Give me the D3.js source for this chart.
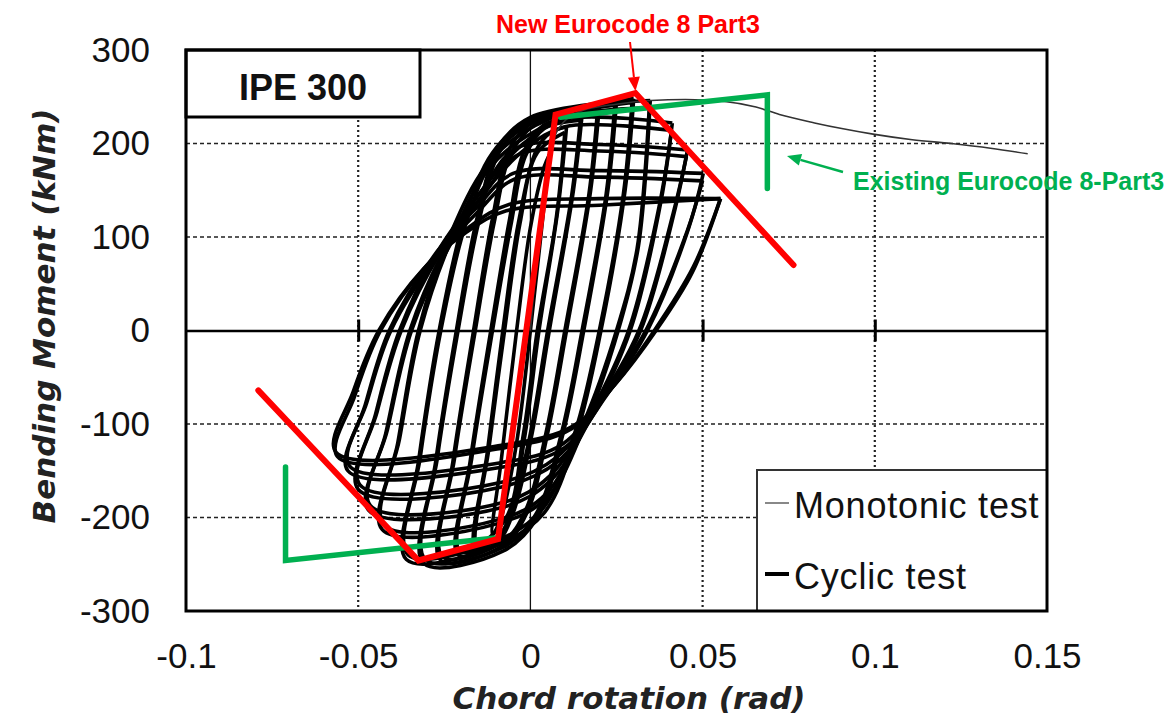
<!DOCTYPE html>
<html>
<head>
<meta charset="utf-8">
<script src="https://cdn.jsdelivr.net/npm/d3@7"></script>
<style>
  html, body { margin: 0; padding: 0; background: #fff; }
  svg { display: block; }
</style>
</head>
<body>
<svg id="chart" width="1173" height="720"></svg>
<script>
// axis ticks
const xTicks = [-0.1, -0.05, 0, 0.05, 0.1, 0.15];
const xTickLabels = ['-0.1', '-0.05', '0', '0.05', '0.1', '0.15'];
const yTicks = [-300, -200, -100, 0, 100, 200, 300];
const yTickLabels = ['-300', '-200', '-100', '0', '100', '200', '300'];
const xGrid = [-0.05, 0.05, 0.1];
const yGrid = [-200, -100, 100, 200];

// Eurocode models [rotation, moment]
const newEC8 = [[-0.079, -64], [-0.0325, -246], [-0.0094, -223], [0.0073, 231], [0.0305, 254], [0.0764, 70]];
const existingEC8Neg = [[-0.0711, -146], [-0.0711, -246], [-0.0102, -222]];
const existingEC8Pos = [[0.0087, 228], [0.0688, 252], [0.0688, 152]];

// monotonic test
const monotonic = [[0, 0], [0.004, 150], [0.008, 215], [0.015, 235], [0.025, 242], [0.035, 246], [0.045, 247],
  [0.0564, 245], [0.0655, 239], [0.0723, 231], [0.0825, 222], [0.0904, 216], [0.0995, 210],
  [0.1109, 204], [0.1222, 200], [0.1336, 195], [0.1444, 189]];

// cyclic test, one array per cycle (positive tip -> negative tip -> back)
const cycle01 = [[0.0055, 188], [0.003, 100], [0.0, 0], [-0.004, -120], [-0.0085, -200], [-0.011, -218], [-0.0085, -140], [-0.004, 0], [0.0, 110], [0.004, 175], [0.0055, 188]];
const cycle02 = [[0.0105, 218], [0.008, 130], [0.0025, 0], [-0.0015, -110], [-0.0065, -205], [-0.011, -225], [-0.016, -232], [-0.0125, -130], [-0.008, 0], [-0.0035, 115], [0.002, 195], [0.006, 212], [0.0105, 218]];
const cycle02b = [[0.010, 212], [0.0075, 120], [0.002, 0], [-0.002, -110], [-0.007, -200], [-0.0155, -228], [-0.012, -125], [-0.0075, 0], [-0.003, 115], [0.002, 190], [0.010, 212]];
const cycle03 = [[0.015, 230], [0.0125, 150], [0.0055, 0], [0.0005, -110], [-0.005, -195], [-0.010, -228], [-0.021, -240], [-0.0175, -140], [-0.0115, 0], [-0.006, 120], [-0.002, 190], [0.004, 220], [0.015, 230]];
const cycle03b = [[0.0145, 225], [0.012, 145], [0.005, 0], [0.0, -110], [-0.0055, -192], [-0.010, -224], [-0.0205, -236], [-0.017, -136], [-0.011, 0], [-0.0055, 116], [-0.0015, 186], [0.004, 216], [0.0145, 225]];
const cycle04 = [[0.020, 240], [0.0175, 150], [0.0105, 0], [0.005, -110], [-0.001, -195], [-0.008, -230], [-0.026, -246], [-0.0225, -140], [-0.0165, 0], [-0.011, 120], [-0.006, 195], [0.002, 226], [0.020, 240]];
const cycle04b = [[0.0195, 236], [0.017, 146], [0.010, 0], [0.0045, -110], [-0.0015, -193], [-0.008, -226], [-0.0255, -242], [-0.022, -136], [-0.016, 0], [-0.0105, 116], [-0.0055, 190], [0.002, 222], [0.0195, 236]];
const cycle05 = [[0.025, 245], [0.0225, 150], [0.0155, 0], [0.0095, -110], [0.002, -200], [-0.008, -236], [-0.031, -249], [-0.0275, -140], [-0.0215, 0], [-0.0155, 120], [-0.009, 198], [0.0, 228], [0.025, 245]];
const cycle05b = [[0.0245, 241], [0.022, 146], [0.015, 0], [0.009, -110], [0.0015, -197], [-0.008, -232], [-0.0305, -245], [-0.027, -136], [-0.021, 0], [-0.015, 116], [-0.0085, 194], [0.0, 224], [0.0245, 241]];
const cycle06 = [[0.030, 248], [0.0275, 150], [0.0205, 0], [0.0135, -110], [0.004, -195], [-0.0107, -231], [-0.036, -245], [-0.0325, -140], [-0.0265, 0], [-0.0195, 115], [-0.011, 190], [0.0, 225], [0.030, 248]];
const cycle06b = [[0.0295, 244], [0.027, 146], [0.020, 0], [0.013, -108], [0.0035, -191], [-0.0105, -226], [-0.0355, -240], [-0.032, -136], [-0.026, 0], [-0.019, 111], [-0.0105, 186], [0.0, 221], [0.0295, 244]];
const cycle07 = [[0.0348, 246], [0.0314, 91], [0.0255, 0], [0.016, -100], [0.005, -178], [-0.009, -206], [-0.043, -213], [-0.0385, -120], [-0.0325, 0], [-0.023, 105], [-0.013, 175], [-0.002, 212], [0.015, 238], [0.0348, 246]];
const cycle07b = [[0.0345, 238], [0.031, 88], [0.025, 0], [0.0155, -98], [0.0045, -175], [-0.009, -202], [-0.0425, -208], [-0.038, -116], [-0.032, 0], [-0.0225, 101], [-0.0125, 171], [-0.0015, 207], [0.015, 232], [0.0345, 238]];
const cycle08 = [[0.0412, 222], [0.038, 140], [0.029, 0], [0.018, -90], [0.006, -160], [-0.008, -189], [-0.047, -192], [-0.042, -110], [-0.035, 0], [-0.023, 100], [-0.012, 160], [-0.002, 200], [0.01, 226], [0.0412, 222]];
const cycle08b = [[0.041, 214], [0.0375, 135], [0.0285, 0], [0.0175, -88], [0.0055, -156], [-0.008, -184], [-0.0465, -187], [-0.0415, -106], [-0.0345, 0], [-0.0225, 97], [-0.0115, 156], [-0.0015, 194], [0.01, 218], [0.041, 214]];
const cycle09 = [[0.0456, 193], [0.042, 130], [0.032, 0], [0.02, -80], [0.008, -140], [-0.008, -167], [-0.050, -170], [-0.045, -90], [-0.038, 0], [-0.026, 90], [-0.014, 150], [-0.004, 195], [0.02, 199], [0.0456, 193]];
const cycle09b = [[0.0453, 186], [0.0415, 126], [0.0315, 0], [0.0195, -78], [0.0075, -136], [-0.008, -162], [-0.0495, -165], [-0.0445, -87], [-0.0375, 0], [-0.0255, 87], [-0.0135, 146], [-0.0035, 188], [0.02, 192], [0.0453, 186]];
const cycle10 = [[0.0502, 168], [0.046, 110], [0.034, 0], [0.022, -70], [0.01, -125], [-0.008, -146], [-0.053, -150], [-0.048, -80], [-0.041, 0], [-0.028, 80], [-0.016, 130], [-0.005, 168], [0.02, 171], [0.0502, 168]];
const cycle10b = [[0.05, 160], [0.0455, 106], [0.0335, 0], [0.0215, -68], [0.0095, -121], [-0.008, -141], [-0.0525, -145], [-0.0475, -77], [-0.0405, 0], [-0.0275, 77], [-0.0155, 126], [-0.0045, 162], [0.02, 164], [0.05, 160]];
const cycle11 = [[0.0552, 141], [0.0473, 68], [0.036, 0], [0.024, -60], [0.012, -105], [-0.007, -125], [-0.056, -135], [-0.051, -70], [-0.0435, 0], [-0.03, 70], [-0.018, 110], [-0.006, 135], [0.02, 141], [0.0552, 141]];
const cycle11b = [[0.0552, 141], [0.047, 62], [0.0365, 0], [0.0245, -58], [0.0125, -102], [-0.007, -122], [-0.0565, -130], [-0.0515, -66], [-0.044, 0], [-0.031, 66], [-0.019, 104], [-0.007, 128], [0.02, 134], [0.0552, 141]];
const cyclic = [cycle01, cycle02, cycle02b, cycle03, cycle03b, cycle04, cycle04b, cycle05, cycle05b, cycle06, cycle06b,
  cycle07, cycle07b, cycle08, cycle08b, cycle09, cycle09b, cycle10, cycle10b, cycle11, cycle11b];

const legendItems = ['Monotonic test', 'Cyclic test'];

const svg = d3.select('#chart');
const plot = { left: 186, right: 1047, top: 50, bottom: 611 };

const x = d3.scaleLinear().domain([-0.1, 0.15]).range([plot.left, plot.right]);
const y = d3.scaleLinear().domain([-300, 300]).range([plot.bottom, plot.top]);

const tickFont = '"Liberation Sans", Arial, sans-serif';

// grid
svg.append('g').selectAll('line').data(yGrid).join('line')
  .attr('x1', plot.left).attr('x2', plot.right)
  .attr('y1', d => y(d)).attr('y2', d => y(d))
  .attr('stroke', '#222').attr('stroke-width', 1.6).attr('stroke-dasharray', '4,3');

svg.append('g').selectAll('line').data(xGrid).join('line')
  .attr('x1', d => x(d)).attr('x2', d => x(d))
  .attr('y1', plot.top).attr('y2', plot.bottom)
  .attr('stroke', '#222').attr('stroke-width', 2.2).attr('stroke-dasharray', '2,3');

// zero lines
svg.append('line')
  .attr('x1', x(0)).attr('x2', x(0)).attr('y1', plot.top).attr('y2', plot.bottom)
  .attr('stroke', '#111').attr('stroke-width', 1.3);

const zeroAxis = svg.append('g')
  .attr('transform', `translate(0,${y(0)})`)
  .call(d3.axisBottom(x).tickValues(xGrid).tickSizeOuter(0).tickFormat(''));
zeroAxis.select('.domain').attr('stroke', '#000').attr('stroke-width', 2.6);
zeroAxis.selectAll('.tick line').attr('y1', -11).attr('y2', 11).attr('stroke', '#000').attr('stroke-width', 3);

// tick labels
const xAxis = svg.append('g')
  .attr('transform', `translate(0,${plot.bottom})`)
  .call(d3.axisBottom(x).tickValues(xTicks).tickSize(0).tickPadding(32)
    .tickFormat((d, i) => xTickLabels[i]));
xAxis.select('.domain').remove();
xAxis.selectAll('text').attr('font-family', tickFont).attr('font-size', 35).attr('fill', '#111');

const yAxis = svg.append('g')
  .attr('transform', `translate(${plot.left},0)`)
  .call(d3.axisLeft(y).tickValues(yTicks).tickSize(0).tickPadding(36)
    .tickFormat((d, i) => yTickLabels[i]));
yAxis.select('.domain').remove();
yAxis.selectAll('text').attr('font-family', tickFont).attr('font-size', 35).attr('fill', '#111');

// cyclic loops
const loopLine = d3.line()
  .x(d => x(d[0])).y(d => y(d[1]))
  .curve(d3.curveCatmullRom.alpha(0.5));

svg.append('g').selectAll('path').data(cyclic).join('path')
  .attr('d', loopLine)
  .attr('fill', 'none').attr('stroke', '#000').attr('stroke-width', 3.6)
  .attr('stroke-linejoin', 'round');

// monotonic
svg.append('path').datum(monotonic)
  .attr('d', d3.line().x(d => x(d[0])).y(d => y(d[1])).curve(d3.curveMonotoneX))
  .attr('fill', 'none').attr('stroke', '#333').attr('stroke-width', 1.6);

// Eurocode lines
const straight = d3.line().x(d => x(d[0])).y(d => y(d[1]));
[existingEC8Neg, existingEC8Pos].forEach(seg => {
  svg.append('path').datum(seg).attr('d', straight)
    .attr('fill', 'none').attr('stroke', '#00b050').attr('stroke-width', 5.5)
    .attr('stroke-linecap', 'round').attr('stroke-linejoin', 'miter');
});
svg.append('path').datum(newEC8).attr('d', straight)
  .attr('fill', 'none').attr('stroke', '#ff0000').attr('stroke-width', 6)
  .attr('stroke-linecap', 'round').attr('stroke-linejoin', 'miter');

// specimen label box
svg.append('rect')
  .attr('x', plot.left).attr('y', plot.top).attr('width', 234).attr('height', 67)
  .attr('fill', '#fff').attr('stroke', '#000').attr('stroke-width', 3);
svg.append('text')
  .attr('x', plot.left + 117).attr('y', 100)
  .attr('text-anchor', 'middle')
  .attr('font-family', tickFont).attr('font-weight', 'bold').attr('font-size', 36)
  .attr('fill', '#111')
  .text('IPE 300');

// legend
const legend = svg.append('g');
legend.append('rect')
  .attr('x', 757).attr('y', 470).attr('width', plot.right - 757).attr('height', plot.bottom - 470)
  .attr('fill', '#fff').attr('stroke', '#333').attr('stroke-width', 2);
const legendRows = legend.selectAll('g.row').data(legendItems).join('g')
  .attr('class', 'row')
  .attr('transform', (d, i) => `translate(765,${503 + i * 71})`);
legendRows.append('line')
  .attr('x1', 0).attr('x2', 24)
  .attr('stroke', (d, i) => i === 0 ? '#888' : '#000')
  .attr('stroke-width', (d, i) => i === 0 ? 2 : 4);
legendRows.append('text')
  .attr('x', 29).attr('y', 15)
  .attr('font-family', tickFont).attr('font-size', 36).attr('letter-spacing', 0.8)
  .attr('fill', '#111')
  .text(d => d);

// frame
svg.append('rect')
  .attr('x', plot.left).attr('y', plot.top)
  .attr('width', plot.right - plot.left).attr('height', plot.bottom - plot.top)
  .attr('fill', 'none').attr('stroke', '#000').attr('stroke-width', 3);

// axis titles
const titleFont = '"DejaVu Sans", Verdana, sans-serif';
svg.append('text')
  .attr('x', 629).attr('y', 709)
  .attr('text-anchor', 'middle')
  .attr('font-family', titleFont).attr('font-style', 'italic').attr('font-weight', 'bold')
  .attr('font-size', 31).attr('fill', '#222')
  .text('Chord rotation (rad)');
svg.append('text')
  .attr('transform', 'translate(55,316) rotate(-90)')
  .attr('text-anchor', 'middle')
  .attr('font-family', titleFont).attr('font-style', 'italic').attr('font-weight', 'bold')
  .attr('font-size', 31).attr('fill', '#222')
  .text('Bending Moment (kNm)');

// annotations
function arrow(x1, y1, x2, y2, color, w, headLen, headW) {
  const a = Math.atan2(y2 - y1, x2 - x1);
  const bx = x2 - headLen * Math.cos(a), by = y2 - headLen * Math.sin(a);
  svg.append('line')
    .attr('x1', x1).attr('y1', y1).attr('x2', bx).attr('y2', by)
    .attr('stroke', color).attr('stroke-width', w);
  const px = -Math.sin(a) * headW / 2, py = Math.cos(a) * headW / 2;
  svg.append('path')
    .attr('d', `M${x2},${y2}L${bx + px},${by + py}L${bx - px},${by - py}Z`)
    .attr('fill', color);
}

svg.append('text')
  .attr('x', 628).attr('y', 33)
  .attr('text-anchor', 'middle')
  .attr('font-family', tickFont).attr('font-weight', 'bold').attr('font-size', 25)
  .attr('fill', '#ff0000')
  .text('New Eurocode 8 Part3');
arrow(630, 42, x(newEC8[4][0]), y(newEC8[4][1]) - 2, '#ff0000', 2, 14, 12);

svg.append('text')
  .attr('x', 853).attr('y', 190)
  .attr('font-family', tickFont).attr('font-weight', 'bold').attr('font-size', 25)
  .attr('fill', '#00b050')
  .text('Existing Eurocode 8-Part3');
arrow(843, 172, 787, 156, '#00b050', 2.5, 14, 12);
</script>
</body>
</html>
